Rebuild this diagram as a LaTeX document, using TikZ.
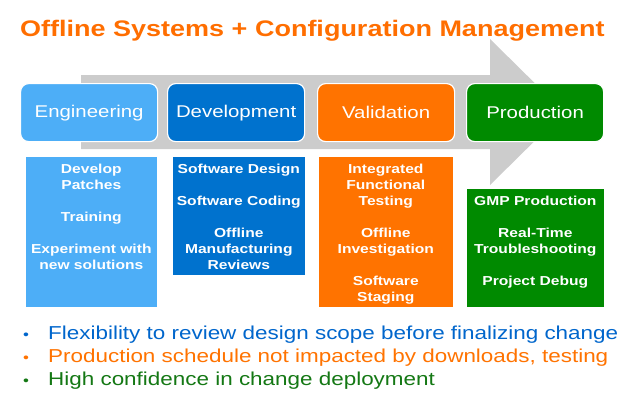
\documentclass[tikz,border=0pt]{standalone}
\usepackage{fontspec}
\setmainfont{Liberation Sans}[FakeStretch=1.2]
\begin{document}
\definecolor{engblue}{RGB}{77,174,247}
\definecolor{devblue}{RGB}{0,114,206}
\definecolor{valorange}{RGB}{255,115,0}
\definecolor{prodgreen}{RGB}{0,138,0}
\definecolor{bandgray}{RGB}{204,204,204}
\definecolor{titleorange}{RGB}{255,110,0}
\definecolor{pointblue}{RGB}{0,102,204}
\definecolor{pointgreen}{RGB}{20,120,20}
\begin{tikzpicture}[x=1pt,y=-1pt,
  phase/.style={draw=white, line width=1.2pt, rounded corners=8pt, anchor=north west,
    minimum width=137pt, minimum height=58pt, inner sep=0pt, text=white,
    font=\fontsize{17}{20}\selectfont},
  taskbox/.style={draw=white, line width=0.6pt, anchor=north west, inner sep=0pt},
  tasktext/.style={anchor=north, align=center, text=white, inner sep=0pt,
    font=\fontsize{13}{16}\selectfont\bfseries},
  point/.style={anchor=base west, inner sep=0pt, font=\fontsize{18.7}{22}\selectfont},
  dot/.style={anchor=base, inner sep=0pt, font=\fontsize{14}{16}\selectfont}]
\useasboundingbox[fill=white] (0,0) rectangle (640,400);

% title
\node[anchor=base west, inner sep=0pt, text=titleorange,
  font=\fontsize{22.5}{26}\selectfont\bfseries] (title) at (20,36)
  {Offline Systems + Configuration Management};

% grey process arrow behind the phases
\fill[bandgray] (81,75) -- (490,75) -- (490,39) -- (564,112) -- (490,185)
  -- (490,149) -- (81,149) -- cycle;

% phase headers
\node[phase, fill=engblue]   (eng)  at (20,83)  {Engineering};
\node[phase, fill=devblue]   (dev)  at (167,83) {Development};
\node[phase, fill=valorange] (val)  at (317,83) {Validation};
\node[phase, fill=prodgreen] (prod) at (466,83) {Production};

% task boxes
\node[taskbox, fill=engblue,   minimum width=132pt, minimum height=151pt] (engbox)  at (25,156) {};
\node[taskbox, fill=devblue,   minimum width=133pt, minimum height=119pt] (devbox)  at (172,156) {};
\node[taskbox, fill=valorange, minimum width=135pt, minimum height=151pt] (valbox)  at (318,156) {};
\node[taskbox, fill=prodgreen, minimum width=138pt, minimum height=119pt] (prodbox) at (466,188) {};

\node[tasktext] (engtasks) at (engbox.north |- 0,163.5)
  {Develop\\Patches\\[16pt]Training\\[16pt]Experiment with\\new solutions};
\node[tasktext] (devtasks) at (devbox.north |- 0,163.5)
  {Software Design\\[16pt]Software Coding\\[16pt]Offline\\Manufacturing\\Reviews};
\node[tasktext] (valtasks) at (valbox.north |- 0,163.5)
  {Integrated\\Functional\\Testing\\[16pt]Offline\\Investigation\\[16pt]Software\\Staging};
\node[tasktext] (prodtasks) at (prodbox.north |- 0,195.5)
  {GMP Production\\[16pt]Real-Time\\Troubleshooting\\[16pt]Project Debug};

% key points
\node[dot, text=pointblue]   (d1) at (26,339) {•};
\node[dot, text=valorange]   (d2) at (26,362) {•};
\node[dot, text=pointgreen]  (d3) at (26,385) {•};
\node[point, text=pointblue]  (p1) at (48,339) {Flexibility to review design scope before finalizing change};
\node[point, text=valorange]  (p2) at (48,362) {Production schedule not impacted by downloads, testing};
\node[point, text=pointgreen] (p3) at (48,385) {High confidence in change deployment};
\end{tikzpicture}
\end{document}
